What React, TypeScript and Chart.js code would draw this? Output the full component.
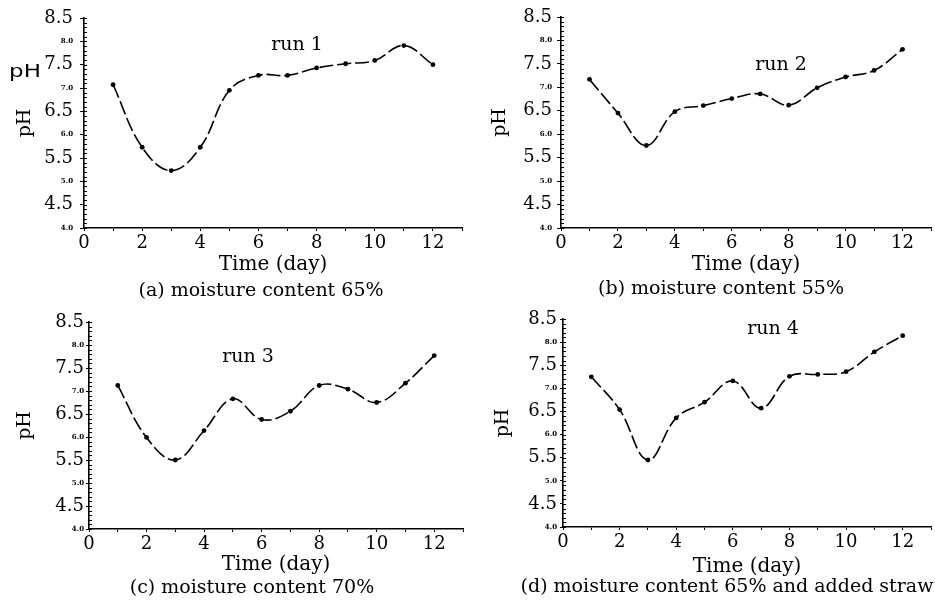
import React, { useEffect, useRef } from 'react';
import { Chart, registerables } from 'chart.js';

Chart.register(...registerables);

// ---------- data ----------
const days = [1, 2, 3, 4, 5, 6, 7, 8, 9, 10, 11, 12];
const run1 = [7.07, 5.73, 5.23, 5.73, 6.95, 7.27, 7.27, 7.43, 7.52, 7.59, 7.91, 7.5];
const run2 = [7.17, 6.45, 5.76, 6.48, 6.61, 6.76, 6.86, 6.62, 6.99, 7.22, 7.36, 7.81];
const run3 = [7.12, 5.99, 5.5, 6.14, 6.83, 6.38, 6.56, 7.12, 7.04, 6.75, 7.17, 7.77];
const run4 = [7.25, 6.54, 5.45, 6.36, 6.7, 7.16, 6.57, 7.26, 7.3, 7.36, 7.79, 8.14];

const runLabels = ['run 1', 'run 2', 'run 3', 'run 4'];
const captions = [
  '(a) moisture content 65%',
  '(b) moisture content 55%',
  '(c) moisture content 70%',
  '(d) moisture content 65% and added straw',
];
const xTitle = 'Time (day)';
const yTitle = 'pH';
const yMin = 4.0;
const yMax = 8.5;
const yStep = 0.5;
const xMin = 0;
const xMax = 13;

const SERIF = '"DejaVu Serif", serif';

// ---------- layout / style per panel ----------
type Panel = {
  left: number; top: number; w: number; h: number;
  chartLeft: number; chartTop: number; chartBottom: number; padRight: number;
  xH: number; yTitlePad: number; tickLen: number; tickPad: number;
  caption: { x: number; y: number }; run: { x: number; y: number };
  values: number[]; idx: number; artifact?: boolean;
};

const panels: Panel[] = [
  { left: 0, top: 0, w: 467, h: 300, chartLeft: 84, chartTop: 18, chartBottom: 228, padRight: 5,
    xH: 49, yTitlePad: 14, tickLen: 4, tickPad: 7, caption: { x: 261, y: 291 }, run: { x: 297, y: 45 },
    values: run1, idx: 0, artifact: true },
  { left: 467, top: 0, w: 468, h: 300, chartLeft: 94, chartTop: 17, chartBottom: 228, padRight: 0,
    xH: 49, yTitlePad: 22, tickLen: 4, tickPad: 5, caption: { x: 254, y: 289 }, run: { x: 314, y: 65 },
    values: run2, idx: 1 },
  { left: 0, top: 300, w: 467, h: 301, chartLeft: 89, chartTop: 22, chartBottom: 229, padRight: 2,
    xH: 48, yTitlePad: 14, tickLen: 3, tickPad: 2, caption: { x: 252, y: 288 }, run: { x: 248, y: 57 },
    values: run3, idx: 2 },
  { left: 467, top: 300, w: 468, h: 301, chartLeft: 96, chartTop: 19, chartBottom: 227, padRight: 0,
    xH: 52, yTitlePad: 25, tickLen: 3, tickPad: 3, caption: { x: 260, y: 287 }, run: { x: 306, y: 29 },
    values: run4, idx: 3 },
];

function PanelChart({ p }: { p: Panel }) {
  const ref = useRef<HTMLCanvasElement | null>(null);
  useEffect(() => {
    if (!ref.current) return;
    const textPlugin = {
      id: 'panelText',
      afterDraw(chart: any) {
        const ctx = chart.ctx;
        const ys = chart.scales.y;
        const area = chart.chartArea;
        ctx.save();
        // minor inner ticks on the y axis
        ctx.strokeStyle = '#000';
        ctx.lineWidth = 1;
        for (let i = Math.round(yMin * 10); i <= Math.round(yMax * 10); i++) {
          const py = Math.round(ys.getPixelForValue(i / 10)) + 0.5;
          ctx.beginPath();
          ctx.moveTo(area.left, py);
          ctx.lineTo(area.left + 3, py);
          ctx.stroke();
        }
        ctx.fillStyle = '#000';
        ctx.textAlign = 'center';
        ctx.textBaseline = 'middle';
        ctx.font = `19px ${SERIF}`;
        ctx.fillText(runLabels[p.idx], p.run.x, p.run.y);
        ctx.fillText(captions[p.idx], p.caption.x, p.caption.y);
        if (p.artifact) {
          ctx.save();
          ctx.translate(25, 73);
          ctx.scale(1.35, 1);
          ctx.font = '17px "DejaVu Sans", sans-serif';
          ctx.fillText(yTitle, 0, 0);
          ctx.restore();
        }
        ctx.restore();
      },
    };

    const chart = new Chart(ref.current, {
      type: 'line',
      data: {
        datasets: [
          {
            data: days.map((d, i) => ({ x: d, y: p.values[i] })),
            borderColor: '#000',
            backgroundColor: '#000',
            borderWidth: 1.6,
            tension: 0.4,
            borderDash: [14, 4],
            pointRadius: 2.4,
            pointBorderWidth: 0,
            pointBackgroundColor: '#000',
          },
        ],
      },
      options: {
        animation: false,
        responsive: false,
        maintainAspectRatio: false,
        layout: {
          padding: {
            left: 0,
            top: p.chartTop,
            right: p.padRight,
            bottom: p.h - p.chartBottom - p.xH,
          },
        },
        plugins: {
          legend: { display: false },
          tooltip: { enabled: false },
          title: { display: false },
        },
        scales: {
          x: {
            type: 'linear',
            min: xMin,
            max: xMax,
            afterFit: (s: any) => { s.height = p.xH; },
            ticks: {
              stepSize: 1,
              autoSkip: false,
              maxRotation: 0,
              padding: 2,
              color: '#000',
              font: { family: SERIF, size: 18 },
              callback: (v: any) => (Number(v) % 2 === 0 ? String(v) : ''),
            },
            grid: { drawOnChartArea: false, drawTicks: true, tickLength: 3, color: '#000', lineWidth: 1 },
            border: { display: true, color: '#000', width: 1.6 },
            title: {
              display: true,
              text: xTitle,
              color: '#000',
              font: { family: SERIF, size: 20 },
              padding: { top: 0, bottom: 0 },
            },
          },
          y: {
            type: 'linear',
            min: yMin,
            max: yMax,
            afterFit: (s: any) => { s.width = p.chartLeft; },
            ticks: {
              stepSize: yStep,
              autoSkip: false,
              padding: p.tickPad,
              color: '#000',
              callback: (v: any) => Number(v).toFixed(1),
              font: (c: any) => {
                const v = c && c.tick ? c.tick.value : 0;
                const major = Math.abs((v % 1) - 0.5) < 1e-6;
                return major
                  ? { family: SERIF, size: 18 }
                  : { family: SERIF, size: 7, weight: 'bold' };
              },
            },
            grid: { drawOnChartArea: false, drawTicks: true, tickLength: p.tickLen, color: '#000', lineWidth: 1 },
            border: { display: true, color: '#000', width: 1.6 },
            title: {
              display: true,
              text: yTitle,
              color: '#000',
              font: { family: SERIF, size: 19 },
              padding: { top: p.yTitlePad, bottom: 0 },
            },
          },
        },
      },
      plugins: [textPlugin],
    } as any);
    return () => chart.destroy();
  }, [p]);

  return (
    <canvas
      ref={ref}
      width={p.w}
      height={p.h}
      style={{ position: 'absolute', left: p.left, top: p.top, width: p.w, height: p.h, display: 'block' }}
    />
  );
}

export default function App() {
  return (
    <div style={{ position: 'absolute', left: 0, top: 0, width: 935, height: 601, background: '#fff', overflow: 'hidden' }}>
      {panels.map((p) => (
        <PanelChart key={p.idx} p={p} />
      ))}
    </div>
  );
}
